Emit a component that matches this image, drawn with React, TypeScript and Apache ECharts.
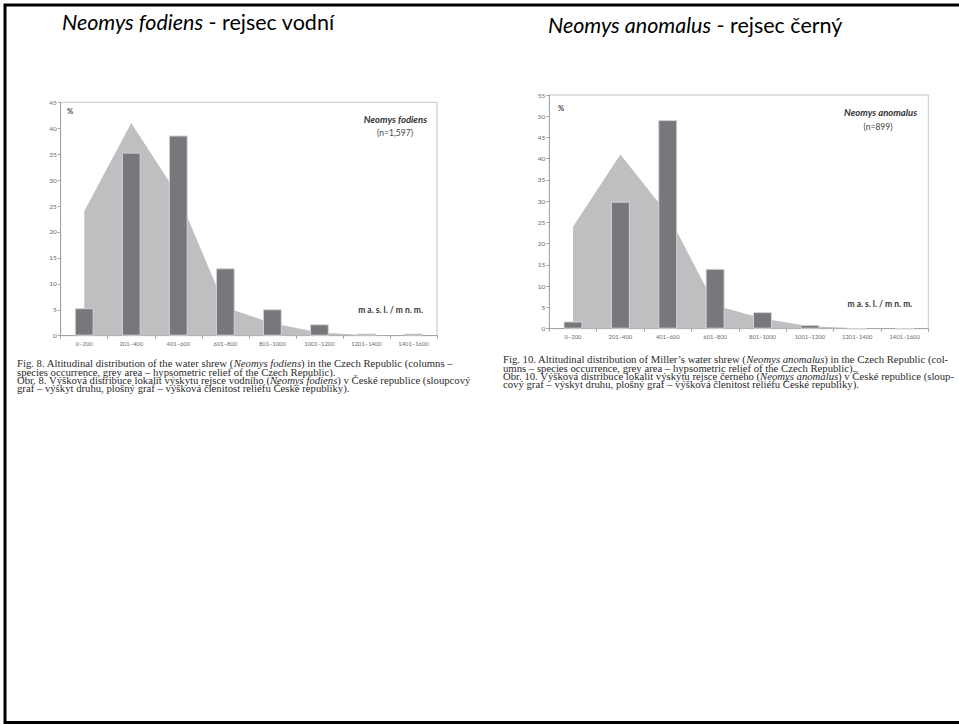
import React, { useEffect, useRef } from "react";
import * as echarts from "echarts";

const categories = ["0–200", "201–400", "401–600", "601–800", "801–1000", "1001–1200", "1201–1400", "1401–1600"];
const reliefPct = [24, 41, 27, 5.5, 2.4, 0.6, 0.1, 0];
const fodiensPct = [5.3, 35.3, 38.6, 13.0, 5.1, 2.2, 0.4, 0.4];
const anomalusPct = [1.7, 29.9, 49.1, 14.1, 3.9, 0.9, 0, 0];
const yMax1 = 45;
const yMax2 = 55;

const caption1 = [
  "Fig. 8. Altitudinal distribution of the water shrew (*Neomys fodiens*) in the Czech Republic (columns –",
  "species occurrence, grey area – hypsometric relief of the Czech Republic).",
  "Obr. 8. Výšková distribuce lokalit výskytu rejsce vodního (*Neomys fodiens*) v České republice (sloupcový",
  "graf – výskyt druhu, plošný graf – výšková členitost reliéfu České republiky).",
];
const caption2 = [
  "Fig. 10. Altitudinal distribution of Miller’s water shrew (*Neomys anomalus*) in the Czech Republic (col-",
  "umns – species occurrence, grey area – hypsometric relief of the Czech Republic).",
  "Obr. 10. Výšková distribuce lokalit výskytu rejsce černého (*Neomys anomalus*) v České republice (sloup-",
  "cový graf – výskyt druhu, plošný graf – výšková členitost reliéfu České republiky).",
];

const AXIS_GRAY = "#a3a3a3";
const LABEL_GRAY = "#6a6a6a";
const AREA = "#bebfc1";
const BAR = "#77787c";
const CHART_FONT = "Lato";
const SERIF = "Liberation Serif";
const CAP_SIZE = 9.4;
const CAP_SCALE_X = 1.14;
const CAP_COLOR = "#2b2b2b";

function makeAxes(gridIndex: number, yMax: number) {
  const x = {
    type: "category",
    gridIndex,
    data: categories,
    boundaryGap: true,
    axisLine: { lineStyle: { color: AXIS_GRAY, width: 1 } },
    axisTick: { show: true, length: 3, lineStyle: { color: AXIS_GRAY } },
    axisLabel: { fontSize: 5.8, color: LABEL_GRAY, fontFamily: CHART_FONT, margin: 5, interval: 0 },
    splitLine: { show: false },
  };
  const y = {
    type: "value",
    gridIndex,
    min: 0,
    max: yMax,
    interval: 5,
    axisLine: { show: true, lineStyle: { color: AXIS_GRAY, width: 1 } },
    axisTick: { show: true, length: 3, lineStyle: { color: AXIS_GRAY } },
    axisLabel: { fontSize: 6.5, color: LABEL_GRAY, fontFamily: CHART_FONT, margin: 4 },
    splitLine: { show: false },
  };
  return { x, y };
}

let measureCtx: CanvasRenderingContext2D | null = null;
function measure(text: string, italic: boolean) {
  if (!measureCtx) measureCtx = document.createElement("canvas").getContext("2d");
  if (!measureCtx) return text.length * CAP_SIZE * 0.45;
  measureCtx.font = `${italic ? "italic " : ""}${CAP_SIZE}px "${SERIF}"`;
  return measureCtx.measureText(text).width;
}

function captionLines(lines: string[], x: number, yMid: number, dy: number) {
  return lines.map((line, li) => {
    const parts = line.split("*");
    let cx = 0;
    const children: any[] = [];
    parts.forEach((p, i) => {
      if (!p.length) return;
      const italic = i % 2 === 1;
      children.push({
        type: "text",
        x: cx,
        y: 0,
        style: {
          text: p,
          fontFamily: SERIF,
          fontSize: CAP_SIZE,
          fontStyle: italic ? "italic" : "normal",
          fill: CAP_COLOR,
          textVerticalAlign: "middle",
        },
      });
      cx += measure(p, italic);
    });
    return { type: "group", x, y: yMid + li * dy, scaleX: CAP_SCALE_X, children };
  });
}

export default function App() {
  const ref = useRef<HTMLDivElement>(null);
  useEffect(() => {
    if (!ref.current) return;
    const chart = echarts.init(ref.current, undefined, { renderer: "svg" });
    const a1 = makeAxes(0, yMax1);
    const a2 = makeAxes(1, yMax2);
    const titleRich = {
      i: { fontStyle: "italic", fontFamily: CHART_FONT, fontSize: 21.5, fill: "#000" },
      n: { fontFamily: CHART_FONT, fontSize: 21.5, fill: "#000" },
    };
    const option: any = {
      animation: false,
      backgroundColor: "#ffffff",
      grid: [
        { left: 60.7, top: 102.3, width: 376.3, height: 233.4, show: true, borderColor: "#c6c6c6", borderWidth: 1, backgroundColor: "transparent" },
        { left: 549.3, top: 95, width: 379, height: 233.7, show: true, borderColor: "#c6c6c6", borderWidth: 1, backgroundColor: "transparent" },
      ],
      xAxis: [a1.x, a2.x],
      yAxis: [a1.y, a2.y],
      series: [
        {
          type: "line", xAxisIndex: 0, yAxisIndex: 0, data: reliefPct, symbol: "none",
          lineStyle: { width: 0 }, areaStyle: { color: AREA, opacity: 1 }, z: 1,
        },
        {
          type: "bar", xAxisIndex: 0, yAxisIndex: 0, data: fodiensPct, barWidth: "40%",
          itemStyle: { color: BAR, borderColor: "#d4d4d6", borderWidth: 1 }, z: 2,
        },
        {
          type: "line", xAxisIndex: 1, yAxisIndex: 1, data: reliefPct, symbol: "none",
          lineStyle: { width: 0 }, areaStyle: { color: AREA, opacity: 1 }, z: 1,
        },
        {
          type: "bar", xAxisIndex: 1, yAxisIndex: 1, data: anomalusPct, barWidth: "40%",
          itemStyle: { color: BAR, borderColor: "#d4d4d6", borderWidth: 1 }, z: 2,
        },
      ],
      graphic: [
        { type: "rect", shape: { x: 5, y: 5, width: 1000, height: 717.5 }, style: { fill: "none", stroke: "#000", lineWidth: 3 }, z: 10 },
        {
          type: "text", x: 62, y: 22,
          style: { text: "{i|Neomys fodiens}{n| - rejsec vodní}", textVerticalAlign: "middle", rich: titleRich },
        },
        {
          type: "text", x: 548, y: 25,
          style: { text: "{i|Neomys anomalus}{n| - rejsec černý}", textVerticalAlign: "middle", rich: titleRich },
        },
        { type: "text", x: 67, y: 111, style: { text: "%", fontFamily: CHART_FONT, fontWeight: "bold", fontSize: 7.5, fill: "#444", textVerticalAlign: "middle" } },
        { type: "text", x: 427, y: 119.3, style: { text: "Neomys fodiens", fontFamily: CHART_FONT, fontWeight: "bold", fontStyle: "italic", fontSize: 9.5, fill: "#333", textAlign: "right", textVerticalAlign: "middle" } },
        { type: "text", x: 395, y: 132.5, style: { text: "(n=1,597)", fontFamily: CHART_FONT, fontSize: 8.5, fill: "#444", textAlign: "center", textVerticalAlign: "middle" } },
        { type: "text", x: 423, y: 310, style: { text: "m a. s. l. / m n. m.", fontFamily: CHART_FONT, fontWeight: "bold", fontSize: 8.5, fill: "#333", textAlign: "right", textVerticalAlign: "middle" } },
        { type: "text", x: 558, y: 108.3, style: { text: "%", fontFamily: CHART_FONT, fontWeight: "bold", fontSize: 7.5, fill: "#444", textVerticalAlign: "middle" } },
        { type: "text", x: 917, y: 112.3, style: { text: "Neomys anomalus", fontFamily: CHART_FONT, fontWeight: "bold", fontStyle: "italic", fontSize: 9.5, fill: "#333", textAlign: "right", textVerticalAlign: "middle" } },
        { type: "text", x: 878, y: 126.7, style: { text: "(n=899)", fontFamily: CHART_FONT, fontSize: 8.5, fill: "#444", textAlign: "center", textVerticalAlign: "middle" } },
        { type: "text", x: 912.3, y: 304, style: { text: "m a. s. l. / m n. m.", fontFamily: CHART_FONT, fontWeight: "bold", fontSize: 8.5, fill: "#333", textAlign: "right", textVerticalAlign: "middle" } },
        ...captionLines(caption1, 17, 364, 8.4),
        ...captionLines(caption2, 503, 360, 8.4),
      ],
    };
    chart.setOption(option);
    return () => chart.dispose();
  }, []);
  return (
    <div
      ref={ref}
      style={{ position: "absolute", left: 0, top: 0, width: 959, height: 725, background: "#fff" }}
    />
  );
}
